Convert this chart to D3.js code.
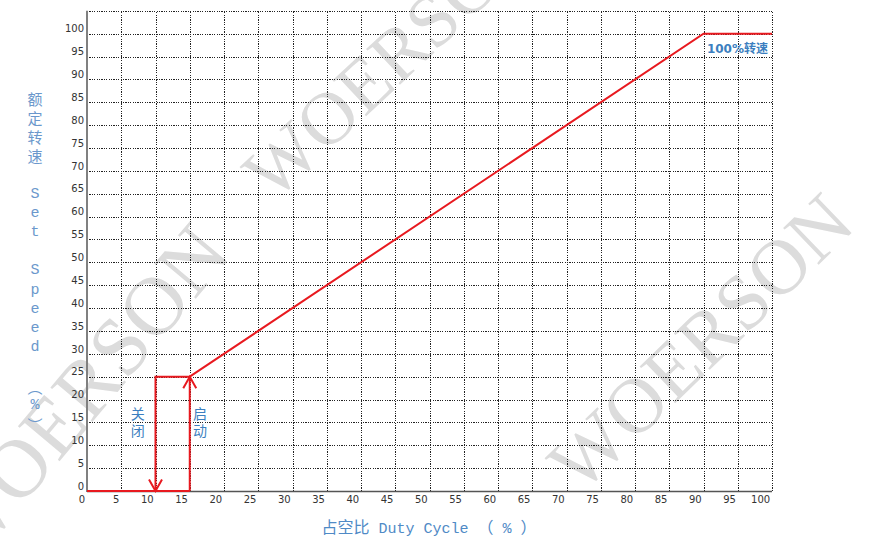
<!DOCTYPE html>
<html>
<head>
<meta charset="utf-8">
<script src="https://cdn.jsdelivr.net/npm/d3@7"></script>
<style>
  html, body { margin: 0; padding: 0; background: #fff; }
  svg { display: block; }
</style>
</head>
<body>
<script>
// ---- data ----
const dutyTicks  = [0,5,10,15,20,25,30,35,40,45,50,55,60,65,70,75,80,85,90,95,100];
const speedTicks = [0,5,10,15,20,25,30,35,40,45,50,55,60,65,70,75,80,85,90,95,100];
const gridSpeed  = [5,10,15,20,25,30,35,40,45,50,55,60,65,70,75,80,85,90,95,100,105];
const gridDuty   = [5,10,15,20,25,30,35,40,45,50,55,60,65,70,75,80,85,90,95,100];

// curve pieces (duty %, speed %)
const idleDuty  = [0, 15],        idleSpeed  = [0, 0];
const stopDuty  = [15, 10, 10],   stopSpeed  = [25, 25, 0];   // 关闭 (arrow down)
const startDuty = [15, 15],       startSpeed = [0, 25];       // 启动 (arrow up)
const runDuty   = [15, 90, 100],  runSpeed   = [25, 100, 100];

const noteTexts = ["关闭", "启动"];
const noteDuty  = [7.4, 16.5];
const noteSpeed = [17.1, 17.1];
const fullText  = "100%转速";
const fullDuty  = 90.5, fullSpeed = 95.8;

const yTitleChars = ["额","定","转","速"," ","S","e","t"," ","S","p","e","e","d"," ","︵","%","︶"];
const xTitleParts = ["占空比", " Duty Cycle ", "（", " % ", "）"];
const watermark = "WOERSON";

// ---- layout ----
const W = 875, H = 545;
const svg = d3.select("body").append("svg").attr("width", W).attr("height", H);
svg.append("rect").attr("width", W).attr("height", H).attr("fill", "#fff");

const x = d3.scaleLinear().domain([0, 100]).range([87, 772]);
const y = d3.scaleLinear().domain([0, 105]).range([491, 10.8]);

// watermarks
const wms = [
  {x: 273, y: 203, a: -43, s: 75},
  {x: -31, y: 569, a: -50, s: 83},
  {x: 580, y: 495, a: -44, s: 78}
];
svg.append("g").selectAll("text").data(wms).join("text")
  .attr("transform", d => `translate(${d.x},${d.y}) rotate(${d.a})`)
  .attr("font-family", "'Liberation Serif', 'DejaVu Serif', serif")
  .attr("font-size", d => d.s)
  .attr("fill", "#dcdcdc")
  .text(watermark);

// grid
const grid = svg.append("g").attr("stroke", "#222").attr("stroke-width", 1)
  .attr("stroke-dasharray", "1.2,1.2").attr("shape-rendering", "crispEdges");
grid.selectAll("line.h").data(gridSpeed).join("line").attr("class", "h")
  .attr("x1", x(0)).attr("x2", x(100))
  .attr("y1", d => Math.round(y(d)) + 0.5).attr("y2", d => Math.round(y(d)) + 0.5);
grid.selectAll("line.v").data(gridDuty).join("line").attr("class", "v")
  .attr("y1", y(0)).attr("y2", y(105))
  .attr("x1", d => Math.round(x(d)) + 0.5).attr("x2", d => Math.round(x(d)) + 0.5);

// axes
const yAxis = svg.append("g").attr("transform", `translate(${x(0)},0)`)
  .call(d3.axisLeft(y).tickValues(speedTicks).tickSize(0).tickPadding(3));
yAxis.select(".domain").remove();
yAxis.selectAll("text").attr("dy", -1.8)
  .attr("font-family", "'DejaVu Sans', Verdana, sans-serif").attr("font-size", 10).attr("fill", "#333");

const xAxis = svg.append("g").attr("transform", `translate(0,${y(0)})`)
  .call(d3.axisBottom(x).tickValues(dutyTicks).tickSize(0).tickPadding(5));
xAxis.select(".domain").remove();
xAxis.selectAll("text").attr("text-anchor", "end").attr("x", -2.3)
  .attr("font-family", "'DejaVu Sans', Verdana, sans-serif").attr("font-size", 10).attr("fill", "#333");

// axis lines
svg.append("line").attr("x1", x(0)).attr("x2", x(0)).attr("y1", y(105)).attr("y2", y(0) + 1)
  .attr("stroke", "#808080").attr("stroke-width", 2);
svg.append("line").attr("x1", x(0)).attr("x2", x(100)).attr("y1", y(0) + 0.5).attr("y2", y(0) + 0.5)
  .attr("stroke", "#555").attr("stroke-width", 1.5);

// arrow marker
const defs = svg.append("defs");
defs.append("marker").attr("id", "arr").attr("markerUnits", "userSpaceOnUse")
  .attr("orient", "auto").attr("markerWidth", 30).attr("markerHeight", 30)
  .attr("refX", 0).attr("refY", 0).attr("viewBox", "-15 -15 30 30")
  .style("overflow", "visible")
  .append("path").attr("d", "M-11.5,-6.5 L0,0 L-11.5,6.5")
  .attr("fill", "none").attr("stroke", "#e8191f").attr("stroke-width", 2);

const line = d3.line().x(d => x(d[0])).y(d => y(d[1]));
const zip = (a, b) => a.map((v, i) => [v, b[i]]);
const red = "#e8191f";
const curves = svg.append("g").attr("fill", "none").attr("stroke", red).attr("stroke-width", 2);
curves.append("path").attr("d", line(zip(idleDuty, idleSpeed)));
curves.append("path").attr("d", line(zip(stopDuty, stopSpeed))).attr("marker-end", "url(#arr)");
curves.append("path").attr("d", line(zip(startDuty, startSpeed))).attr("marker-end", "url(#arr)");
curves.append("path").attr("d", line(zip(runDuty, runSpeed)));

// annotations
const noteG = svg.append("g").attr("fill", "#3c7fc0")
  .attr("font-family", "'Noto Sans CJK SC', sans-serif").attr("font-size", 14);
noteTexts.forEach((t, i) => {
  Array.from(t).forEach((c, j) => {
    noteG.append("text").attr("x", x(noteDuty[i])).attr("y", y(noteSpeed[i]) + j * 17)
      .attr("text-anchor", "middle").attr("dominant-baseline", "central").text(c);
  });
});
svg.append("text").attr("x", x(fullDuty)).attr("y", y(fullSpeed))
  .attr("fill", "#3c7fc0").attr("font-family", "'DejaVu Sans', 'Noto Sans CJK SC', sans-serif")
  .attr("font-size", 12).attr("font-weight", 600).text(fullText);

// y title (vertical)
const yT = svg.append("g").attr("fill", "#6b98cc").attr("text-anchor", "middle")
  .attr("dominant-baseline", "central");
yTitleChars.forEach((c, i) => {
  const cjk = /[\u3000-\u9fff\ufe30-\ufe4f]/.test(c);
  yT.append("text").attr("x", 35).attr("y", 98 + i * 19.2)
    .attr("font-family", cjk ? "'Noto Sans CJK SC', sans-serif" : "'Liberation Mono', monospace")
    .attr("font-size", cjk ? 15 : 15).text(c);
});

// x title
const xT = svg.append("text").attr("x", 321.5).attr("y", 533).attr("fill", "#4f8ac6")
  .attr("xml:space", "preserve").style("white-space", "pre");
xTitleParts.forEach(p => {
  const cjk = /[\u3000-\u9fff\uff00-\uffef]/.test(p);
  xT.append("tspan")
    .attr("font-family", cjk ? "'Noto Sans CJK SC', sans-serif" : "'Liberation Mono', monospace")
    .attr("font-size", cjk ? 16 : 15).text(p);
});
</script>
</body>
</html>
